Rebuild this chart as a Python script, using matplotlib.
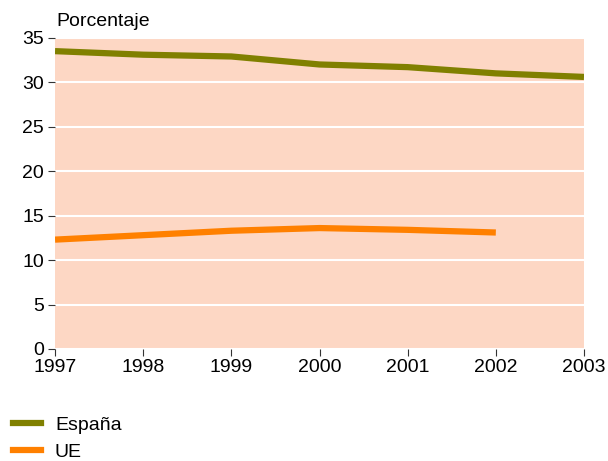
import matplotlib
matplotlib.use("Agg")
import matplotlib.pyplot as plt
from matplotlib.lines import Line2D

years = [1997, 1998, 1999, 2000, 2001, 2002, 2003]
espana = [33.5, 33.1, 32.9, 32.0, 31.7, 31.0, 30.6]
ue_years = [1997, 1998, 1999, 2000, 2001, 2002]
ue = [12.3, 12.8, 13.3, 13.6, 13.4, 13.1]
yticks = [0, 5, 10, 15, 20, 25, 30, 35]

plt.rcParams['font.family'] = ['Liberation Sans', 'DejaVu Sans']

fig = plt.figure(figsize=(6.08, 4.61), dpi=100)
ax = fig.add_axes([0.0905, 0.243, 0.87, 0.675])
ax.set_facecolor('#fdd7c4')

ax.plot(years, espana, color='#808000', lw=4.5, solid_capstyle='butt', zorder=3)
ax.plot(ue_years, ue, color='#ff8000', lw=4.5, solid_capstyle='butt', zorder=3)

ax.set_xlim(1997, 2003)
ax.set_ylim(0, 35)
ax.set_yticks(yticks)
ax.set_xticks(years)
ax.grid(axis='y', color='white', lw=1.5)
ax.set_axisbelow(True)
for s in ax.spines.values():
    s.set_visible(False)
ax.tick_params(axis='both', labelsize=14, length=5, width=0.8, color='#333333')
ax.tick_params(axis='y', pad=3)
ax.tick_params(axis='x', pad=2)

fig.text(0.093, 0.935, 'Porcentaje', fontsize=14, ha='left', va='bottom')

handles = [Line2D([], [], color='#808000', lw=4.5),
           Line2D([], [], color='#ff8000', lw=4.5)]
fig.legend(handles, ['España', 'UE'], loc='upper left',
           bbox_to_anchor=(0.012, 0.11), frameon=False, fontsize=14,
           handlelength=1.45, handletextpad=0.7, labelspacing=0.5,
           borderaxespad=0, borderpad=0.3)

fig.savefig('out.png', dpi=100)
